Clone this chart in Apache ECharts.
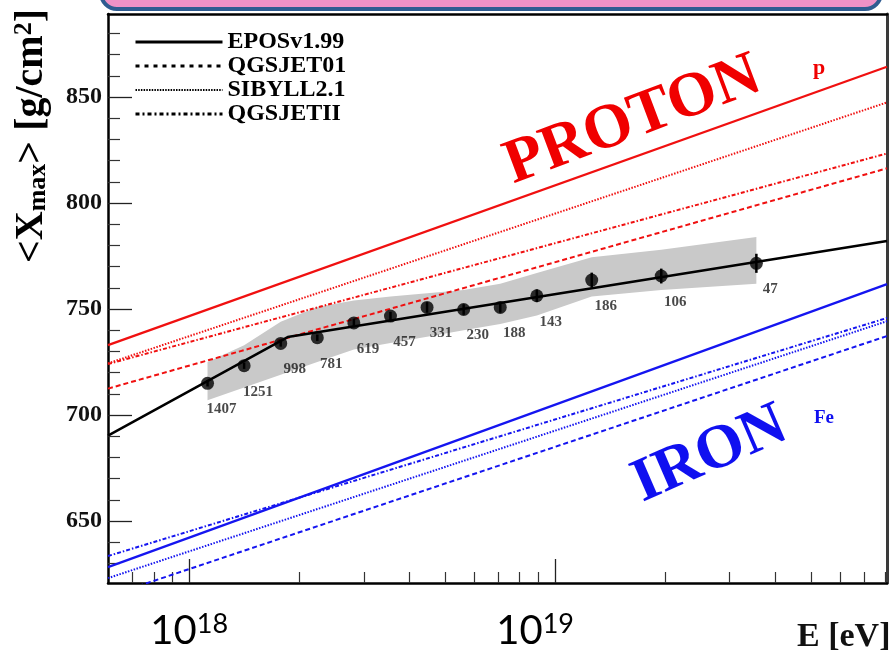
<!DOCTYPE html>
<html>
<head>
<meta charset="utf-8">
<script src="https://cdn.jsdelivr.net/npm/echarts@6/dist/echarts.min.js"></script>
<style>
html,body{margin:0;padding:0;background:#fff;}
#chart{width:889px;height:653px;}
</style>
</head>
<body>
<div id="chart"></div>
<script>
// ---- data (x = lg(E/eV), y = <Xmax> in g/cm^2) ----
const lgE = [18.05, 18.15, 18.25, 18.35, 18.45, 18.55, 18.65, 18.75, 18.85, 18.95, 19.10, 19.29, 19.55];
const xmaxMean = [715.0, 723.3, 733.8, 736.5, 743.5, 746.7, 750.8, 749.8, 750.8, 756.3, 763.7, 765.6, 771.6];
const xmaxStat = [1.5, 1.5, 1.5, 1.5, 2, 2, 2.5, 2.5, 2.5, 3, 3.5, 3.5, 4.5];
const eventCounts = [1407, 1251, 998, 781, 619, 457, 331, 230, 188, 143, 186, 106, 47];
const sysUpper = [725, 733, 744, 751, 754, 756, 757.5, 759, 762, 767, 774.5, 778, 784];
const sysLower = [707, 713, 719, 725, 731, 734, 737, 740, 743, 747, 756, 759, 762];

// broken-line fit
const fitLgE = [17.778, 18.269, 19.907];
const fitXmax = [690.3, 736.8, 782.1];

// model predictions (end points at lgE = lineEnds)
const lineEnds = [17.778, 19.907];
const modelNames = ['EPOSv1.99', 'QGSJET01', 'SIBYLL2.1', 'QGSJETII'];
const protonEPOS = [733.0, 864.3];
const protonQGSJET01 = [712.5, 816.4];
const protonSIBYLL = [724.4, 847.5];
const protonQGSJETII = [724.1, 823.4];
const ironEPOS = [628.3, 761.8];
const ironQGSJET01 = [614.6, 737.3];
const ironSIBYLL = [623.1, 744.3];
const ironQGSJETII = [633.5, 745.8];

// axis ticks
const yMajorTicks = [650, 700, 750, 800, 850];
const yMinorTicks = [630, 640, 660, 670, 680, 690, 710, 720, 730, 740, 760, 770, 780, 790, 810, 820, 830, 840, 860, 870, 880];
const xMajorTicksE = [1e18, 1e19];
const xMinorTicksE = [7e17, 8e17, 9e17, 2e18, 3e18, 4e18, 5e18, 6e18, 7e18, 8e18, 9e18, 2e19, 3e19, 4e19, 5e19, 6e19, 7e19, 8e19];
const xTickLabels = ['18', '19'];

// ---- chart ----
const RED = '#f01010', BLUE = '#1515f0';
const SERIF = '"Liberation Serif", "Times New Roman", serif';
const dashStyles = {
  'EPOSv1.99': 'solid',
  'QGSJET01': [5, 3],
  'SIBYLL2.1': [1.5, 1.5],
  'QGSJETII': [4, 2, 1.5, 2]
};
const legendDash = {
  'EPOSv1.99': 'solid',
  'QGSJET01': [4, 5],
  'SIBYLL2.1': [1.5, 1.2],
  'QGSJETII': [4, 3, 2, 3]
};

function modelLine(name, ends, color) {
  return {
    name: name, type: 'line', symbol: 'none', z: 2, clip: true,
    data: [[lineEnds[0], ends[0]], [lineEnds[1], ends[1]]],
    lineStyle: { color: color, width: name === 'EPOSv1.99' ? 2.3 : 2, type: dashStyles[name] },
    itemStyle: { color: color },
    emphasis: { disabled: true }, silent: true
  };
}

const protonSets = [protonEPOS, protonQGSJET01, protonSIBYLL, protonQGSJETII];
const ironSets = [ironEPOS, ironQGSJET01, ironSIBYLL, ironQGSJETII];
const series = [];
modelNames.forEach((n, i) => series.push(modelLine(n, protonSets[i], RED)));
modelNames.forEach((n, i) => series.push(modelLine(n, ironSets[i], BLUE)));

// systematic band
series.push({
  type: 'custom', z: 1, silent: true,
  data: [[lgE[0], sysUpper[0]]],
  renderItem: function (params, api) {
    const pts = [];
    for (let i = 0; i < lgE.length; i++) pts.push(api.coord([lgE[i], sysUpper[i]]));
    for (let i = lgE.length - 1; i >= 0; i--) pts.push(api.coord([lgE[i], sysLower[i]]));
    return { type: 'polygon', shape: { points: pts }, style: { fill: '#c9c9c9' } };
  }
});

// fit line
series.push({
  type: 'line', symbol: 'none', z: 3, silent: true,
  data: fitLgE.map((x, i) => [x, fitXmax[i]]),
  lineStyle: { color: '#000', width: 2.5 }
});

// error bars
series.push({
  type: 'custom', z: 4, silent: true,
  data: lgE.map((x, i) => [x, xmaxMean[i] - xmaxStat[i], xmaxMean[i] + xmaxStat[i]]),
  renderItem: function (params, api) {
    const lo = api.coord([api.value(0), api.value(1)]);
    const hi = api.coord([api.value(0), api.value(2)]);
    return { type: 'line', shape: { x1: lo[0], y1: lo[1], x2: hi[0], y2: hi[1] }, style: { stroke: '#000', lineWidth: 2.5 } };
  }
});

// data points with event counts
series.push({
  type: 'scatter', z: 5, symbol: 'circle', symbolSize: 13, silent: true,
  data: lgE.map((x, i) => [x, xmaxMean[i], eventCounts[i]]),
  itemStyle: { color: '#000' },
  label: {
    show: true, position: 'inside', offset: [14, 26],
    formatter: p => String(p.value[2]),
    fontFamily: SERIF, fontWeight: 'bold', fontSize: 15, color: '#1a1a1a'
  }
});

const chart = echarts.init(document.getElementById('chart'));
chart.setOption({
  backgroundColor: '#ffffff',
  animation: false,
  grid: { left: 108, right: 2, top: 14, bottom: 70 },
  legend: {
    orient: 'vertical', left: 129, top: 25, itemWidth: 87, itemHeight: 14, itemGap: 0,
    selectedMode: false,
    textStyle: { fontFamily: SERIF, fontWeight: 'bold', fontSize: 24, lineHeight: 23.5, color: '#000' },
    data: modelNames.map(n => ({
      name: n,
      itemStyle: { color: 'rgba(0,0,0,0)', opacity: 0, borderWidth: 0 },
      lineStyle: { color: '#000', width: n === 'SIBYLL2.1' ? 2 : 3, type: legendDash[n], opacity: 1 }
    }))
  },
  xAxis: [
    {
      type: 'value', position: 'bottom', min: 17.778, max: 19.907,
      axisLine: { show: true, lineStyle: { color: '#000', width: 2.5 } },
      axisTick: { show: true, inside: true, length: 24, customValues: xMajorTicksE.map(v => Math.log10(v)), lineStyle: { color: '#222', width: 1.3 } },
      splitLine: { show: false },
      axisLabel: {
        show: true, margin: 28, customValues: xMajorTicksE.map(v => Math.log10(v)),
        formatter: function (v) {
          return v < 18.5 ? '{m|10}{s|' + xTickLabels[0] + '}' : '{m|10}{t|' + xTickLabels[1] + '}';
        },
        rich: {
          m: { fontFamily: 'Lato, "Open Sans", sans-serif', fontSize: 40, lineHeight: 44, verticalAlign: 'top', color: '#000' },
          s: { fontFamily: 'Lato, "Open Sans", sans-serif', fontSize: 27, lineHeight: 22, verticalAlign: 'top', color: '#000' },
          t: { fontFamily: 'Lato, "Open Sans", sans-serif', fontSize: 27, lineHeight: 22, verticalAlign: 'top', color: '#000', padding: [0, 40, 0, 0] }
        }
      }
    },
    {
      type: 'value', position: 'bottom', min: 17.778, max: 19.907,
      axisLine: { show: false },
      axisTick: { show: true, inside: true, length: 11, customValues: xMinorTicksE.map(v => Math.log10(v)), lineStyle: { color: '#333', width: 1.2 } },
      axisLabel: { show: false }, splitLine: { show: false }
    },
    {
      type: 'value', position: 'top', min: 17.778, max: 19.907,
      axisLine: { show: true, lineStyle: { color: '#000', width: 2.5 } },
      axisTick: { show: false }, axisLabel: { show: false }, splitLine: { show: false }
    }
  ],
  yAxis: [
    {
      type: 'value', position: 'left', min: 620.8, max: 889.2,
      axisLine: { show: true, lineStyle: { color: '#000', width: 2.5 } },
      axisTick: { show: true, inside: true, length: 24, customValues: yMajorTicks, lineStyle: { color: '#222', width: 1.3 } },
      axisLabel: { show: true, margin: 6, customValues: yMajorTicks, fontFamily: SERIF, fontWeight: 'bold', fontSize: 24, color: '#111' },
      splitLine: { show: false }
    },
    {
      type: 'value', position: 'left', min: 620.8, max: 889.2,
      axisLine: { show: false },
      axisTick: { show: true, inside: true, length: 12, customValues: yMinorTicks, lineStyle: { color: '#333', width: 1.2 } },
      axisLabel: { show: false }, splitLine: { show: false }
    },
    {
      type: 'value', position: 'right', min: 620.8, max: 889.2,
      axisLine: { show: true, lineStyle: { color: '#3a3a3a', width: 3 } },
      axisTick: { show: false }, axisLabel: { show: false }, splitLine: { show: false }
    }
  ],
  series: series,
  graphic: [
    {
      type: 'rect', z: 100, shape: { x: 101, y: -30, width: 780, height: 39, r: 16 },
      style: { fill: '#ef92c7', stroke: '#2f5c91', lineWidth: 4 }
    },
    {
      type: 'text', x: 31.5, y: 263, rotation: Math.PI / 2, z: 100,
      style: {
        text: '{a|<X}{b|max}{a|> [g/cm}{c|2}{a|]}',
        align: 'left', verticalAlign: 'middle', fill: '#000',
        rich: {
          a: { fontFamily: SERIF, fontWeight: 'bold', fontSize: 40, lineHeight: 40, verticalAlign: 'top', fill: '#000' },
          b: { fontFamily: SERIF, fontWeight: 'bold', fontSize: 26, lineHeight: 18, verticalAlign: 'bottom', fill: '#000' },
          c: { fontFamily: SERIF, fontWeight: 'bold', fontSize: 26, lineHeight: 20, verticalAlign: 'top', fill: '#000' }
        }
      }
    },
    {
      type: 'text', x: 797, y: 637, z: 100,
      style: { text: 'E [eV]', font: 'bold 34px ' + SERIF, fill: '#111', align: 'left', verticalAlign: 'middle' }
    },
    {
      type: 'text', x: 633, y: 121, rotation: 0.36, z: 100,
      style: { text: 'PROTON', font: 'bold 63px ' + SERIF, fill: '#f00000', align: 'center', verticalAlign: 'middle' }
    },
    {
      type: 'text', x: 819, y: 68, z: 100,
      style: { text: 'p', font: 'bold 22px ' + SERIF, fill: '#f00000', align: 'center', verticalAlign: 'middle' }
    },
    {
      type: 'text', x: 710, y: 455, rotation: 0.41, z: 100,
      style: { text: 'IRON', font: 'bold 62px ' + SERIF, fill: '#1010f0', align: 'center', verticalAlign: 'middle' }
    },
    {
      type: 'text', x: 824, y: 418, z: 100,
      style: { text: 'Fe', font: 'bold 19px ' + SERIF, fill: '#1010f0', align: 'center', verticalAlign: 'middle' }
    }
  ]
});
</script>
</body>
</html>
